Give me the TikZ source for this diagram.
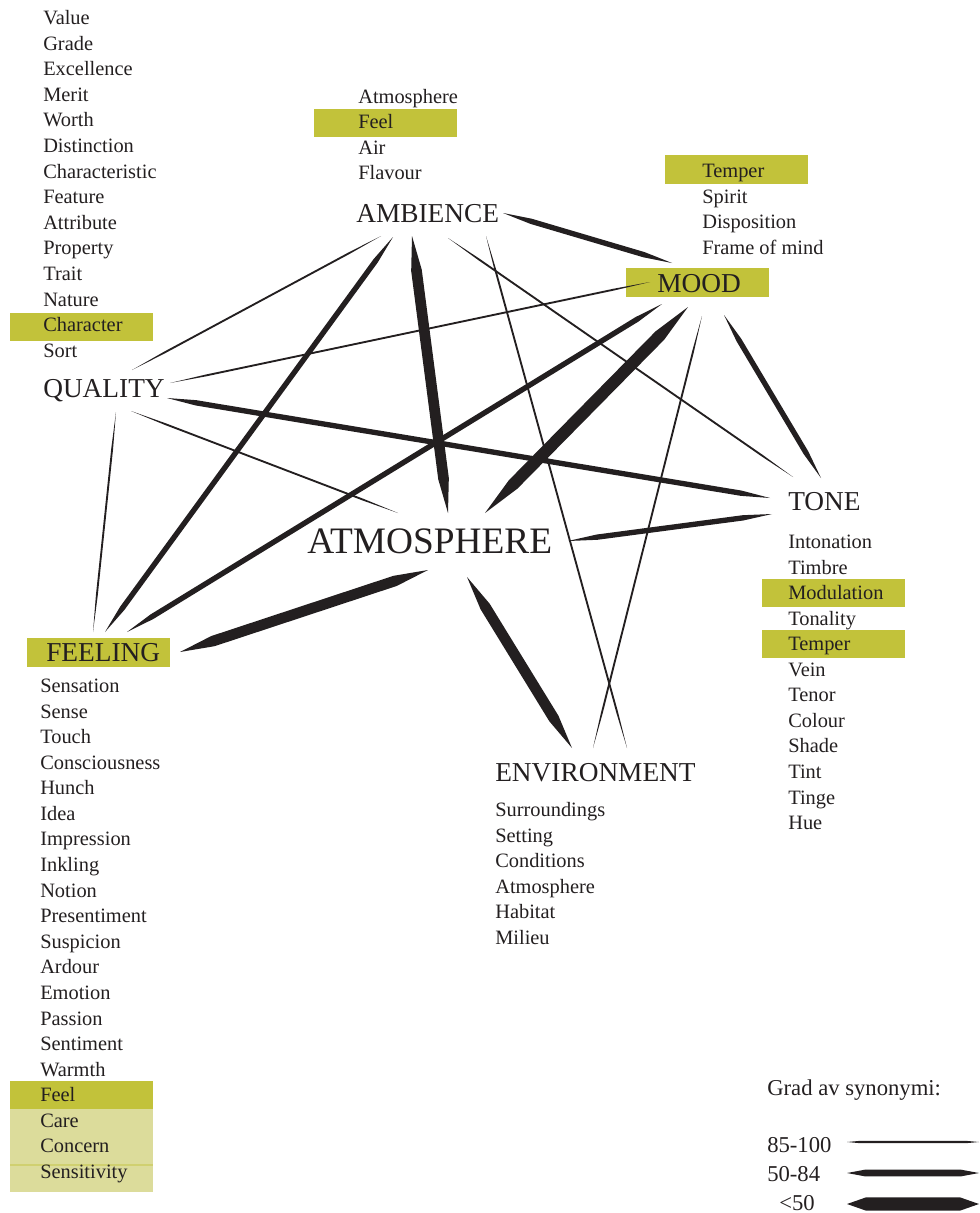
\documentclass[tikz,border=0pt]{standalone}
\usepackage{fontspec}
\setmainfont{Liberation Serif}
\usetikzlibrary{calc}
\definecolor{ink}{HTML}{231F20}
\definecolor{olive}{HTML}{C2C23A}
\definecolor{paleolive}{HTML}{DCDC9B}
\definecolor{seam}{HTML}{D0D070}
\tikzset{
  item/.style={anchor=base west, inner sep=0pt, text=ink, font=\fontsize{15.3}{18}\selectfont},
  term/.style={anchor=base west, inner sep=0pt, text=ink, font=\fontsize{20.5}{24}\selectfont},
  hub/.style={anchor=base west, inner sep=0pt, text=ink, font=\fontsize{28}{32}\selectfont},
  legendtext/.style={anchor=base west, inner sep=0pt, text=ink, font=\fontsize{17}{20}\selectfont},
  hl/.style={fill=olive},
  hlpale/.style={fill=paleolive},
}
% tapered connector: from, to, half width, taper length
\newcommand\spindle[4]{%
  \fill[ink] (#1) -- ($(#1)!#4!(#2)!#3!90:(#2)$) -- ($(#2)!#4!(#1)!#3!-90:(#1)$) -- (#2)
    -- ($(#2)!#4!(#1)!#3!90:(#1)$) -- ($(#1)!#4!(#2)!#3!-90:(#2)$) -- cycle;}
\newcommand\thinlink[2]{\spindle{#1}{#2}{0.7pt}{28pt}}
\newcommand\medlink[2]{\spindle{#1}{#2}{2pt}{22pt}}
\newcommand\heavylink[2]{\spindle{#1}{#2}{4pt}{26pt}}
\begin{document}
\begin{tikzpicture}[x=0.75pt,y=-0.75pt]
\useasboundingbox (0,0) rectangle (979,1213);

% highlight boxes
\fill[hl] (314,109) rectangle (457,137);
\fill[hl] (665,155) rectangle (808,184);
\fill[hl] (626,268) rectangle (769,297);
\fill[hl] (10,313) rectangle (153,341);
\fill[hl] (762,579) rectangle (905,607);
\fill[hl] (762,630) rectangle (905,658);
\fill[hl] (27,638) rectangle (170,667);
\fill[hl] (10,1081) rectangle (153,1109);
\fill[hlpale] (10,1109) rectangle (153,1192);
\draw[seam, line width=0.8pt] (10,1165) -- (153,1165);

% main terms
\node[term] (amb)  at (356,222) {AMBIENCE};
\node[term] (qual) at (43,397)  {QUALITY};
\node[term] (mood) at (657,292) {MOOD};
\node[term] (tone) at (788,510) {TONE};
\node[term] (feel) at (46,661)  {FEELING};
\node[term] (env)  at (495,781) {ENVIRONMENT};
\node[hub]  (atm)  at (307,553) {ATMOSPHERE};

% synonym lists
\foreach \w [count=\i from 0] in {Value,Grade,Excellence,Merit,Worth,Distinction,Characteristic,Feature,Attribute,Property,Trait,Nature,Character,Sort}
  \node[item] (q\i) at (43,{24.5+25.6*\i}) {\w};
\foreach \w [count=\i from 0] in {Atmosphere,Feel,Air,Flavour}
  \node[item] (a\i) at (358,{103.5+25.4*\i}) {\w};
\foreach \w [count=\i from 0] in {Temper,Spirit,Disposition,Frame of mind}
  \node[item] (m\i) at (702,{177.5+25.6*\i}) {\w};
\foreach \w [count=\i from 0] in {Intonation,Timbre,Modulation,Tonality,Temper,Vein,Tenor,Colour,Shade,Tint,Tinge,Hue}
  \node[item] (t\i) at (788,{548.5+25.55*\i}) {\w};
\foreach \w [count=\i from 0] in {Sensation,Sense,Touch,Consciousness,Hunch,Idea,Impression,Inkling,Notion,Presentiment,Suspicion,Ardour,Emotion,Passion,Sentiment,Warmth,Feel,Care,Concern,Sensitivity}
  \node[item] (f\i) at (40,{692.5+25.58*\i}) {\w};
\foreach \w [count=\i from 0] in {Surroundings,Setting,Conditions,Atmosphere,Habitat,Milieu}
  \node[item] (e\i) at (495,{816.5+25.6*\i}) {\w};

% connector ports
\coordinate (amb-mood) at (503,213);  \coordinate (mood-amb) at (672,263);
\coordinate (amb-qual) at (381,236);  \coordinate (qual-amb) at (132,370);
\coordinate (amb-feel) at (393,237);  \coordinate (feel-amb) at (105,632);
\coordinate (amb-atm)  at (412,236);  \coordinate (atm-amb)  at (448,513);
\coordinate (amb-tone) at (448,238);  \coordinate (tone-amb) at (793,477);
\coordinate (amb-env)  at (486,236);  \coordinate (env-amb)  at (627,748);
\coordinate (mood-qual) at (650,282); \coordinate (qual-mood) at (170,383);
\coordinate (mood-feel) at (662,304); \coordinate (feel-mood) at (127,632);
\coordinate (mood-atm)  at (688,307); \coordinate (atm-mood)  at (485,513);
\coordinate (mood-env)  at (702,316); \coordinate (env-mood)  at (593,748);
\coordinate (mood-tone) at (724,315); \coordinate (tone-mood) at (821,478);
\coordinate (qual-feel) at (116,412); \coordinate (feel-qual) at (93,632);
\coordinate (qual-atm)  at (131,411); \coordinate (atm-qual)  at (398,513);
\coordinate (qual-tone) at (167,398); \coordinate (tone-qual) at (770,498);
\coordinate (atm-tone)  at (568,541); \coordinate (tone-atm)  at (772,514);
\coordinate (atm-feel)  at (428,570); \coordinate (feel-atm)  at (180,652);
\coordinate (atm-env)   at (467,577); \coordinate (env-atm)   at (572,748);

% connectors
\medlink{amb-mood}{mood-amb}
\thinlink{amb-qual}{qual-amb}
\medlink{amb-feel}{feel-amb}
\heavylink{amb-atm}{atm-amb}
\thinlink{amb-tone}{tone-amb}
\thinlink{amb-env}{env-amb}
\thinlink{mood-qual}{qual-mood}
\medlink{mood-feel}{feel-mood}
\spindle{mood-atm}{atm-mood}{4.5pt}{30pt}
\thinlink{mood-env}{env-mood}
\medlink{mood-tone}{tone-mood}
\thinlink{qual-feel}{feel-qual}
\thinlink{qual-atm}{atm-qual}
\medlink{qual-tone}{tone-qual}
\medlink{atm-tone}{tone-atm}
\heavylink{atm-feel}{feel-atm}
\heavylink{atm-env}{env-atm}

% legend
\node[legendtext] (lgtitle) at (767,1095) {Grad av synonymi:};
\node[legendtext] (lg1) at (767,1152) {85-100};
\node[legendtext] (lg2) at (767,1181) {50-84};
\node[legendtext] (lg3) at (779,1210) {<50};
\coordinate (lg1a) at (847,1142); \coordinate (lg1b) at (979,1142);
\coordinate (lg2a) at (847,1173); \coordinate (lg2b) at (979,1173);
\coordinate (lg3a) at (847,1204); \coordinate (lg3b) at (979,1204);
\spindle{lg1a}{lg1b}{0.9pt}{10pt}
\spindle{lg2a}{lg2b}{2.6pt}{14pt}
\spindle{lg3a}{lg3b}{4.9pt}{14pt}
\end{tikzpicture}
\end{document}
